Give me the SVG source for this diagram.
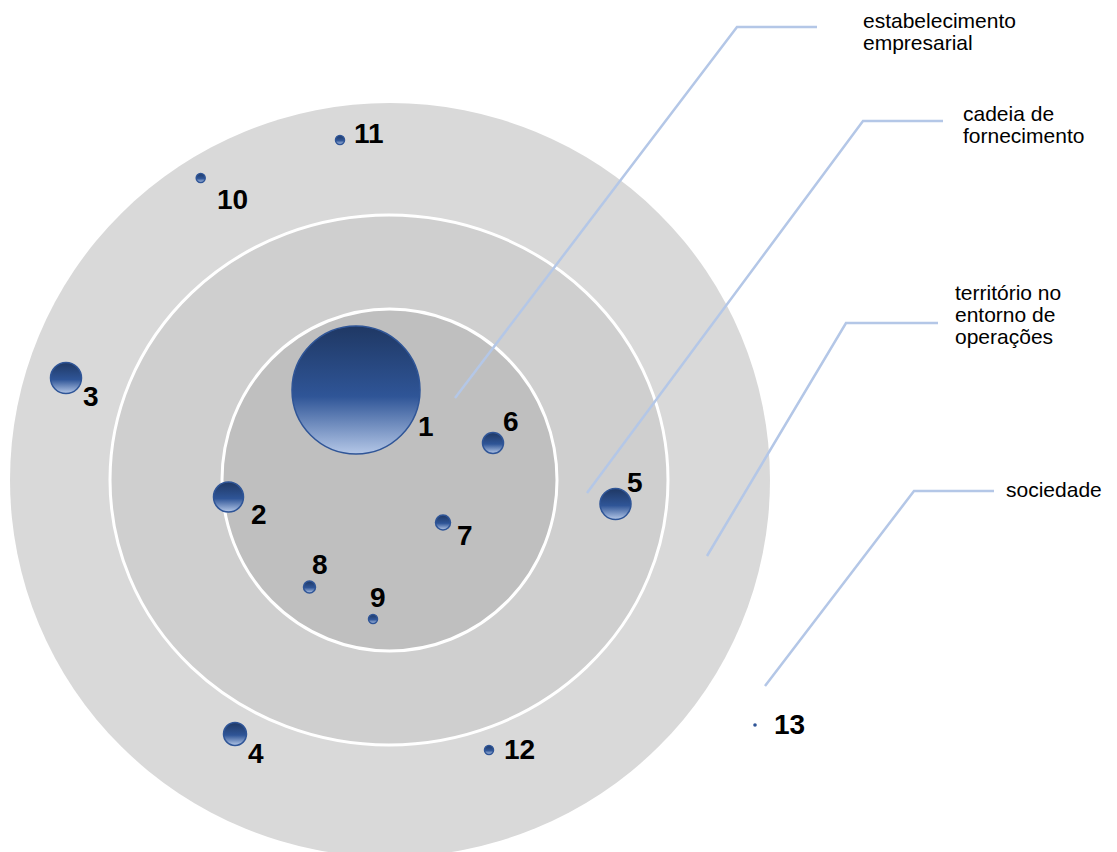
<svg xmlns="http://www.w3.org/2000/svg" width="1117" height="852" viewBox="0 0 1117 852">
<style>
.ring{stroke:#ffffff;stroke-width:3}
.b{fill:url(#bub);stroke:#2f5597;stroke-width:1.5}
.n{font-family:"Liberation Sans",Arial,sans-serif;font-weight:bold;font-size:28px;fill:#000}
.t{font-family:"Liberation Sans",Arial,sans-serif;font-size:21px;fill:#000}
.c{fill:none;stroke:#b4c7e7;stroke-width:2.5}
</style>
<defs>
<linearGradient id="bub" x1="0" y1="0" x2="0" y2="1">
<stop offset="0" stop-color="#1f3864"/>
<stop offset="0.55" stop-color="#2f5597"/>
<stop offset="1" stop-color="#b4c7e7"/>
</linearGradient>
</defs>
<rect width="1117" height="852" fill="#ffffff"/>
<g id="rings">
<ellipse id="ring-sociedade" cx="390" cy="480" rx="380" ry="377" fill="#d9d9d9"/>
<ellipse id="ring-territorio" class="ring" cx="389" cy="480" rx="279" ry="265" fill="#cfcfcf"/>
<ellipse id="ring-cadeia" class="ring" cx="389.5" cy="480" rx="167.5" ry="171" fill="#bfbfbf"/>
</g>
<g id="connectors">
<polyline class="c" points="817,27 737,27 455,398"/>
<polyline class="c" points="943,121 863,121 587,493"/>
<polyline class="c" points="938,323 846,323 707,556"/>
<polyline class="c" points="994,491 914,491 765,686"/>
</g>
<g id="labels">
<text class="t" x="863" y="28">estabelecimento</text>
<text class="t" x="863" y="50">empresarial</text>
<text class="t" x="963" y="121">cadeia de</text>
<text class="t" x="963" y="143">fornecimento</text>
<text class="t" x="955" y="300">território no</text>
<text class="t" x="955" y="322">entorno de</text>
<text class="t" x="955" y="344">operações</text>
<text class="t" x="1006" y="497">sociedade</text>
</g>
<g id="node-1"><circle class="b" cx="356" cy="390" r="64" stroke-width="2.5"/><text class="n" x="418" y="436">1</text></g>
<g id="node-2"><circle class="b" cx="228.5" cy="497" r="15"/><text class="n" x="251" y="524">2</text></g>
<g id="node-3"><circle class="b" cx="66" cy="378" r="15.5"/><text class="n" x="83" y="406">3</text></g>
<g id="node-4"><circle class="b" cx="235" cy="734" r="11.5"/><text class="n" x="248" y="763">4</text></g>
<g id="node-5"><circle class="b" cx="615.5" cy="504" r="15.5"/><text class="n" x="627" y="492">5</text></g>
<g id="node-6"><circle class="b" cx="493" cy="443" r="10.5"/><text class="n" x="503" y="431">6</text></g>
<g id="node-7"><circle class="b" cx="443" cy="522.5" r="7.5"/><text class="n" x="457" y="545">7</text></g>
<g id="node-8"><circle class="b" cx="309.5" cy="587" r="6"/><text class="n" x="312" y="574">8</text></g>
<g id="node-9"><circle class="b" cx="373" cy="619" r="4.5"/><text class="n" x="370" y="607">9</text></g>
<g id="node-10"><circle class="b" cx="200.7" cy="178" r="4.5"/><text class="n" x="217" y="209">10</text></g>
<g id="node-11"><circle class="b" cx="340" cy="140" r="4.5"/><text class="n" x="354" y="143">11</text></g>
<g id="node-12"><circle class="b" cx="489" cy="750" r="4.5"/><text class="n" x="504" y="759">12</text></g>
<g id="node-13"><circle cx="755" cy="725" r="1.8" fill="#2f5597"/><text class="n" x="774" y="734">13</text></g>
</svg>
